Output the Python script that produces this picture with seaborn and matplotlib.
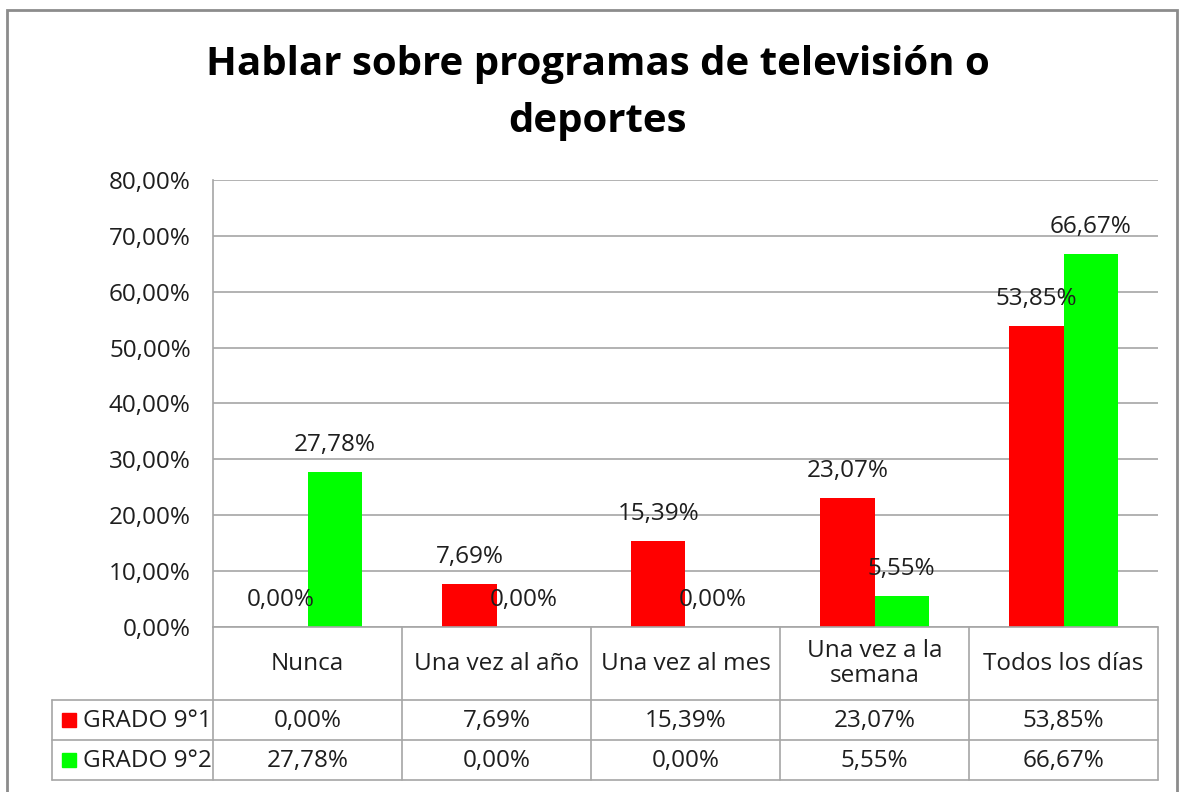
import matplotlib
matplotlib.use("Agg")
import matplotlib.pyplot as plt
from matplotlib.lines import Line2D
from matplotlib.patches import Rectangle
import seaborn as sns
import pandas as pd

# ---- data ----
categories = ["Nunca", "Una vez al año", "Una vez al mes", "Una vez a la\nsemana", "Todos los días"]
series_names = ["GRADO 9°1", "GRADO 9°2"]
grado_91 = [0.00, 7.69, 15.39, 23.07, 53.85]
grado_92 = [27.78, 0.00, 0.00, 5.55, 66.67]
colors = ["#FF0000", "#00FF00"]
y_ticks = [0, 10, 20, 30, 40, 50, 60, 70, 80]
title = "Hablar sobre programas de televisión o\ndeportes"

def fmt(v):
    return f"{v:.2f}%".replace(".", ",")

df = pd.DataFrame({
    "cat": categories * 2,
    "val": grado_91 + grado_92,
    "serie": [series_names[0]] * 5 + [series_names[1]] * 5,
})

sns.set_theme(style="white")
plt.rcParams["font.family"] = ["Open Sans", "DejaVu Sans"]
TXT = "#1e1e1e"
GRID = "#a6a6a6"
FS = 17.5

W, H = 1189, 792
fig = plt.figure(figsize=(W / 100, H / 100), dpi=100)
fig.patch.set_facecolor("white")

def fx(x):
    return x / W

def fy(y):
    return 1 - y / H

L, R, T, B = 213, 1158, 180, 627
ax = fig.add_axes([fx(L), fy(B), (R - L) / W, (B - T) / H])

sns.barplot(data=df, x="cat", y="val", hue="serie", palette=colors,
            width=0.572, ax=ax, legend=False, saturation=1, edgecolor="none")

ax.set_xlim(-0.5, 4.5)
ax.set_ylim(0, 80)
ax.set_yticks(y_ticks)
ax.set_yticklabels([fmt(t) for t in y_ticks], fontsize=FS, color=TXT)
ax.set_xticks([])
ax.set_xlabel("")
ax.set_ylabel("")
ax.tick_params(axis="y", length=0, pad=16)
ax.yaxis.grid(True, color=GRID, linewidth=1.2)
ax.set_axisbelow(True)
for s in ["top", "right", "bottom"]:
    ax.spines[s].set_visible(False)
ax.spines["left"].set_color(GRID)
ax.spines["left"].set_linewidth(1.2)

# data labels
for cont, vals in zip(ax.containers, [grado_91, grado_92]):
    for p, v in zip(cont.patches, vals):
        ax.annotate(fmt(v), xy=(p.get_x() + p.get_width() / 2, p.get_height()),
                    xytext=(0, 19.5), textcoords="offset points",
                    ha="center", va="center", fontsize=FS, color=TXT,
                    annotation_clip=False)

# title
fig.text(fx(598), fy(93), title, ha="center", va="center", fontsize=29,
         fontweight="bold", color="black", linespacing=1.58)

# ---- data table ----
col_edges = [213, 402, 591, 780, 969, 1158]
row_header_top, row1_top, row2_top, table_bottom = 627, 700, 740, 780
leg_left = 52

def hline(x0, x1, y):
    fig.add_artist(Line2D([fx(x0), fx(x1)], [fy(y), fy(y)], color=GRID, lw=1.2))

def vline(x, y0, y1):
    fig.add_artist(Line2D([fx(x), fx(x)], [fy(y0), fy(y1)], color=GRID, lw=1.2))

hline(L, R, row_header_top)
for y in [row1_top, row2_top, table_bottom]:
    hline(leg_left, R, y)
for x in col_edges:
    vline(x, row_header_top, table_bottom)
vline(leg_left, row1_top, table_bottom)

for i, c in enumerate(categories):
    cx = (col_edges[i] + col_edges[i + 1]) / 2
    fig.text(fx(cx), fy((row_header_top + row1_top) / 2), c, ha="center", va="center",
             fontsize=FS, color=TXT, linespacing=1.1)
    fig.text(fx(cx), fy((row1_top + row2_top) / 2 + 1), fmt(grado_91[i]), ha="center",
             va="center", fontsize=FS, color=TXT)
    fig.text(fx(cx), fy((row2_top + table_bottom) / 2 + 1), fmt(grado_92[i]), ha="center",
             va="center", fontsize=FS, color=TXT)

for j, (name, col) in enumerate(zip(series_names, colors)):
    top = [row1_top, row2_top][j]
    cy = top + 20
    fig.add_artist(Rectangle((fx(62), fy(cy + 7)), 14 / W, 14 / H, color=col,
                             transform=fig.transFigure))
    fig.text(fx(83), fy(cy + 1), name, ha="left", va="center", fontsize=FS, color=TXT)

# chart area border
fig.add_artist(Rectangle((fx(7), fy(H + 20)), (1177 - 7) / W, (H + 20 - 10) / H,
                         fill=False, edgecolor="#8c8c8c", lw=2, transform=fig.transFigure))

fig.savefig("out.png", dpi=100, facecolor="white")
